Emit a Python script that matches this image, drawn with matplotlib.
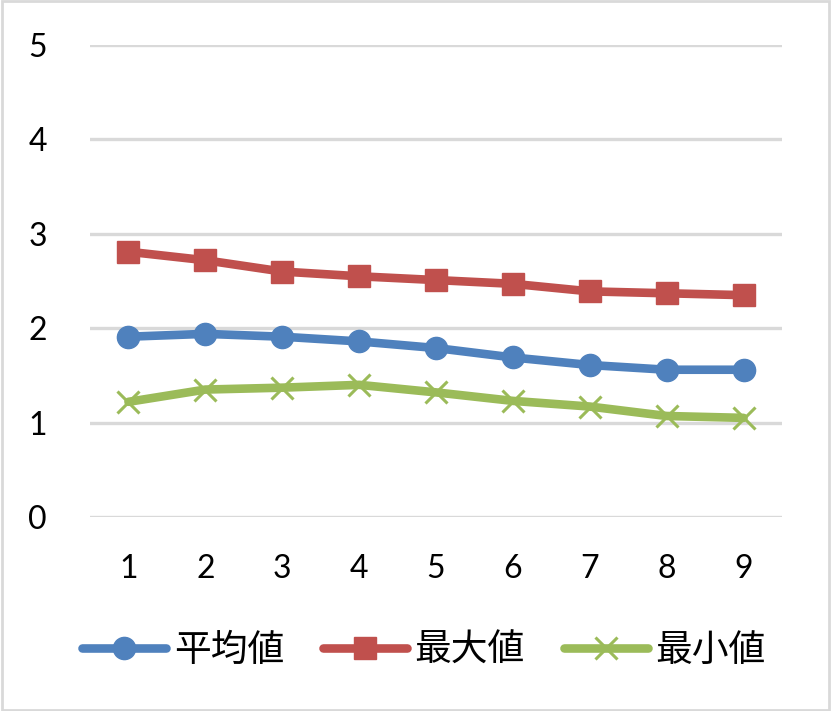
import matplotlib
matplotlib.use("Agg")
import matplotlib.pyplot as plt
from matplotlib.patches import Rectangle

# values
x = [1, 2, 3, 4, 5, 6, 7, 8, 9]
mean_vals = [1.91, 1.94, 1.91, 1.86, 1.79, 1.69, 1.61, 1.56, 1.56]
max_vals = [2.81, 2.72, 2.60, 2.55, 2.51, 2.47, 2.39, 2.37, 2.35]
min_vals = [1.22, 1.35, 1.37, 1.40, 1.32, 1.23, 1.17, 1.07, 1.05]
labels = ["平均値", "最大値", "最小値"]

plt.rcParams['font.family'] = ['Lato', 'DejaVu Sans']

fig = plt.figure(figsize=(8.31, 7.11), dpi=100)
ax = fig.add_axes([90 / 831, 1 - 517 / 711, 692 / 831, 472 / 711])

ax.plot(x, mean_vals, color="#4f81bd", lw=6.2, marker="o", ms=16,
        solid_capstyle="round", label=labels[0])
ax.plot(x, max_vals, color="#c0504d", lw=6.2, marker="s", ms=16,
        solid_capstyle="round", label=labels[1])
ax.plot(x, min_vals, color="#9bbb59", lw=6.2, marker="x", ms=16, mew=2.2,
        solid_capstyle="round", label=labels[2])

ax.set_xlim(0.5, 9.5)
ax.set_ylim(0, 5)
ax.set_xticks(x)
ax.set_yticks([0, 1, 2, 3, 4, 5])
ax.grid(axis="y", color="#d9d9d9", lw=2.4)
ax.set_axisbelow(True)
for s in ax.spines.values():
    s.set_visible(False)
ax.tick_params(length=0, labelsize=23, colors="black")
ax.tick_params(axis="y", pad=31)
ax.tick_params(axis="x", pad=27)

leg = fig.legend(loc="center", bbox_to_anchor=(0.51, 1 - 650 / 711), ncol=3,
                 frameon=False, handlelength=2.3, columnspacing=1.05,
                 handletextpad=0.2,
                 prop={'family': ['Noto Sans CJK JP'], 'size': 26.5})

# light border around the chart
fig.patches.append(Rectangle((0.002, 0.002), 0.996, 0.996, transform=fig.transFigure,
                             fill=False, edgecolor="#d9d9d9", lw=2))

fig.savefig("out.png", dpi=100)
